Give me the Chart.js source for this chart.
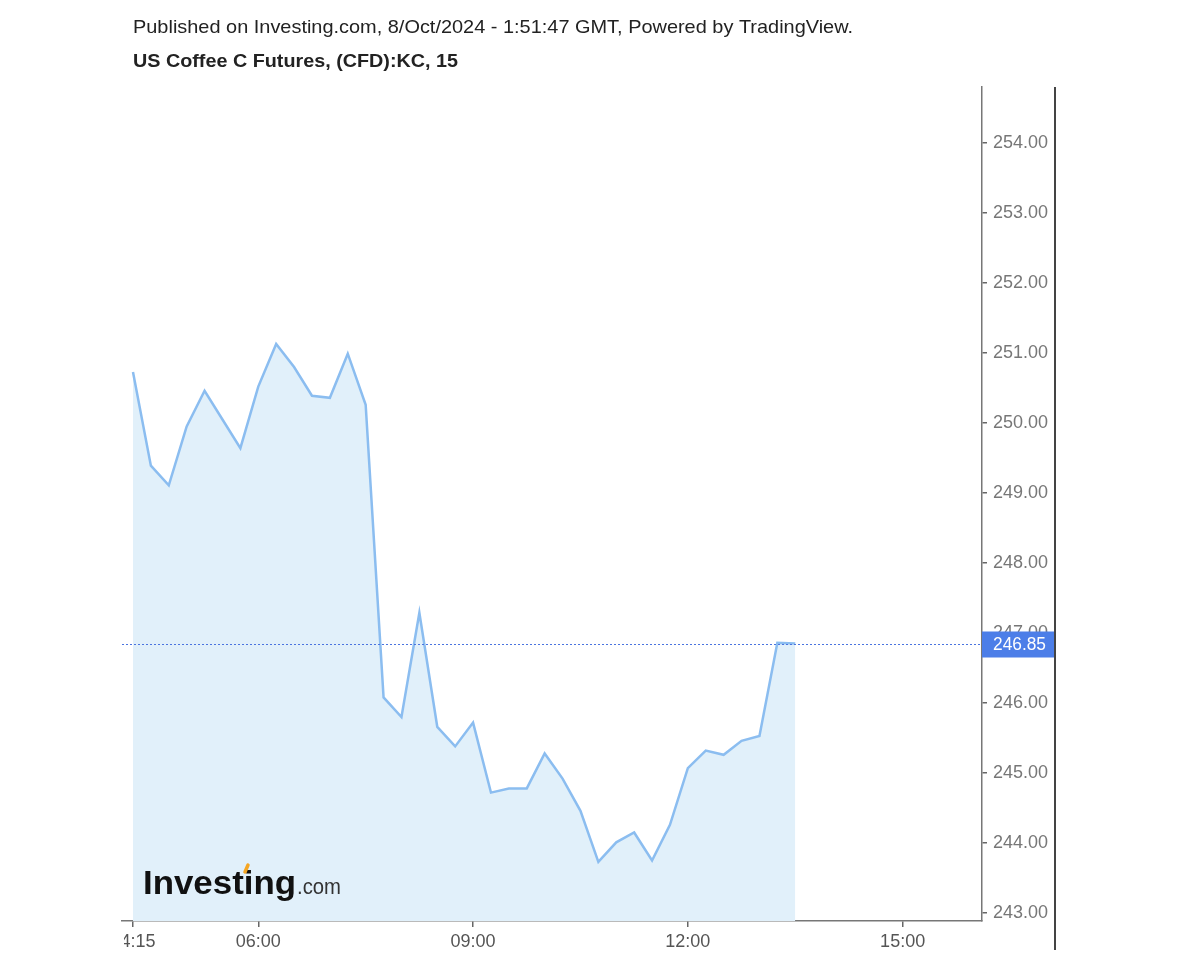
<!DOCTYPE html>
<html>
<head>
<meta charset="utf-8">
<script src="https://cdn.jsdelivr.net/npm/chart.js@4.4.1/dist/chart.umd.min.js"></script>
<style>
  html, body { margin: 0; padding: 0; background: #fff; }
  #wrap { width: 1200px; height: 960px; position: relative; }
</style>
</head>
<body>
<div id="wrap"><canvas id="kcChart" width="1200" height="960"></canvas></div>
<script>
// 15 minute closes, US Coffee C (KC)
const times = ['04:15', '04:30', '04:45', '05:00', '05:15', '05:30', '05:45', '06:00',
    '06:15', '06:30', '06:45', '07:00', '07:15', '07:30', '07:45', '08:00',
    '08:15', '08:30', '08:45', '09:00', '09:15', '09:30', '09:45', '10:00',
    '10:15', '10:30', '10:45', '11:00', '11:15', '11:30', '11:45', '12:00',
    '12:15', '12:30', '12:45', '13:00', '13:15', '13:30'];
const prices = [250.73, 249.39, 249.11, 249.95, 250.46, 250.05, 249.64, 250.52,
    251.13, 250.80, 250.39, 250.36, 250.99, 250.26, 246.08, 245.80,
    247.29, 245.66, 245.38, 245.72, 244.72, 244.78, 244.78, 245.28,
    244.92, 244.46, 243.73, 244.01, 244.15, 243.75, 244.26, 245.07,
    245.32, 245.26, 245.46, 245.53, 246.86, 246.85];
const xTickLabels = ['04:15', '06:00', '09:00', '12:00', '15:00'];
const yTickValues = [243, 244, 245, 246, 247, 248, 249, 250, 251, 252, 253, 254];

const headerText = 'Published on Investing.com, 8/Oct/2024 - 1:51:47 GMT, Powered by TradingView.';
const titleText = 'US Coffee C Futures, (CFD):KC, 15';

const FONT = "'Liberation Sans', Arial, sans-serif";

function toMinutes(t) {
    const p = t.split(':');
    return parseInt(p[0], 10) * 60 + parseInt(p[1], 10);
}

function fmtTime(m) {
    const h = Math.floor(m / 60), mm = Math.round(m % 60);
    return String(h).padStart(2, '0') + ':' + String(mm).padStart(2, '0');
}

// draw text squeezed/stretched to a given width (the original looks condensed)
function fitText(c, text, x, y, font, width) {
    c.save();
    c.font = font;
    const w = c.measureText(text).width;
    c.translate(x, y);
    c.scale(width / w, 1);
    c.fillText(text, 0, 0);
    c.restore();
}

const points = times.map((t, i) => ({ x: toMinutes(t), y: prices[i] }));
const lastPrice = prices[prices.length - 1];

// header, logo, last price marker and the outer frame line
const decorPlugin = {
    id: 'decor',
    afterDraw(chart) {
        const c = chart.ctx;
        const area = chart.chartArea;
        const yScale = chart.scales.y;
        c.save();

        // clip the first x label at the left edge like the original
        c.fillStyle = '#fff';
        c.fillRect(0, area.bottom + 1, area.left + 2, chart.height - area.bottom);

        // header lines
        c.fillStyle = '#222';
        c.textBaseline = 'alphabetic';
        c.textAlign = 'left';
        fitText(c, headerText, 133, 33, '19px ' + FONT, 720);
        fitText(c, titleText, 133, 67, 'bold 19px ' + FONT, 325);

        // last price dotted line
        const py = Math.round(yScale.getPixelForValue(lastPrice)) + 0.5;
        c.strokeStyle = '#4a74e0';
        c.lineWidth = 1;
        c.setLineDash([2, 2]);
        c.beginPath();
        c.moveTo(area.left, py);
        c.lineTo(area.right, py);
        c.stroke();
        c.setLineDash([]);

        // last price tag
        c.fillStyle = '#4c7ee8';
        c.fillRect(area.right, py - 13, 73, 26);
        c.fillStyle = '#fff';
        c.textBaseline = 'middle';
        fitText(c, lastPrice.toFixed(2), area.right + 11, py + 1, '18px ' + FONT, 53);

        // outer right frame
        c.strokeStyle = '#444';
        c.lineWidth = 2;
        c.beginPath();
        c.moveTo(1055, area.top);
        c.lineTo(1055, 950);
        c.stroke();

        // Investing.com logo
        c.textBaseline = 'alphabetic';
        c.fillStyle = '#111';
        fitText(c, 'Investing', 143, 894, 'bold 34px ' + FONT, 153);
        c.fillStyle = '#333';
        fitText(c, '.com', 297, 894, '22px ' + FONT, 44);
        c.strokeStyle = '#f5a623';
        c.lineWidth = 3.5;
        c.lineCap = 'round';
        c.beginPath();
        c.moveTo(245, 872);
        c.lineTo(248, 865);
        c.stroke();

        c.restore();
    }
};

const ctx = document.getElementById('kcChart').getContext('2d');
const kcChart = new Chart(ctx, {
    type: 'line',
    data: {
        datasets: [{
            label: 'KC',
            data: points,
            borderColor: '#8bbdf0',
            borderWidth: 2.5,
            backgroundColor: '#e1f0fa',
            fill: 'start',
            tension: 0,
            pointRadius: 0
        }]
    },
    options: {
        responsive: false,
        animation: false,
        layout: { padding: { left: 122, right: 145, top: 87, bottom: 0 } },
        plugins: {
            legend: { display: false },
            tooltip: { enabled: false }
        },
        scales: {
            x: {
                type: 'linear',
                min: 245.8,
                max: 966.5,
                afterBuildTicks: s => { s.ticks = xTickLabels.map(t => ({ value: toMinutes(t) })); },
                afterFit: s => { s.height = 39; },
                grid: { drawOnChartArea: false, drawTicks: true, tickLength: 6, color: '#666', lineWidth: 1.5 },
                border: { color: '#777', width: 1.5 },
                ticks: {
                    autoSkip: false,
                    maxRotation: 0,
                    padding: 4,
                    color: '#555',
                    font: { family: FONT, size: 18 },
                    callback: v => fmtTime(v)
                }
            },
            y: {
                position: 'right',
                min: 242.886,
                max: 254.8,
                afterBuildTicks: s => { s.ticks = yTickValues.map(v => ({ value: v })); },
                afterFit: s => { s.width = 73; },
                grid: { drawOnChartArea: false, drawTicks: true, tickLength: 5, color: '#666', lineWidth: 1.5 },
                border: { color: '#777', width: 1.5 },
                ticks: {
                    padding: 6,
                    color: '#777',
                    font: { family: FONT, size: 18 },
                    callback: v => Number(v).toFixed(2)
                }
            }
        }
    },
    plugins: [decorPlugin]
});
</script>
</body>
</html>
